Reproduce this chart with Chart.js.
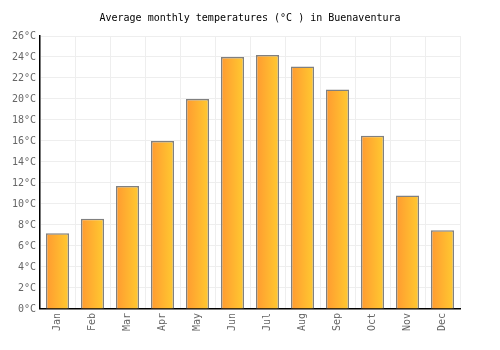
<!DOCTYPE html>
<html>
<head>
<meta charset="utf-8">
<script src="https://cdn.jsdelivr.net/npm/chart.js@4/dist/chart.umd.min.js"></script>
<style>
  html, body { margin: 0; padding: 0; background: #fff; }
  #wrap { width: 500px; height: 350px; }
</style>
</head>
<body>
<div id="wrap"><canvas id="tempChart"></canvas></div>
<script>
// Data
const months = ['Jan', 'Feb', 'Mar', 'Apr', 'May', 'Jun', 'Jul', 'Aug', 'Sep', 'Oct', 'Nov', 'Dec'];
const temps = [7.2, 8.6, 11.7, 16.0, 20.0, 24.0, 24.2, 23.1, 20.9, 16.5, 10.8, 7.5];
const yTicks = [0, 2, 4, 6, 8, 10, 12, 14, 16, 18, 20, 22, 24, 26];

const fontFamily = "'DejaVu Sans Mono', monospace";

// horizontal orange gradient on each bar, set just before drawing
const barGradientPlugin = {
    id: 'barGradient',
    beforeDatasetsDraw: function(chart) {
        const ctx = chart.ctx;
        chart.getDatasetMeta(0).data.forEach(function(bar) {
            const half = bar.width / 2;
            if (!isFinite(bar.x) || !isFinite(half)) return;
            const g = ctx.createLinearGradient(bar.x - half, 0, bar.x + half, 0);
            g.addColorStop(0, '#ff9a30');
            g.addColorStop(1, '#ffca30');
            // options are shared between bars, so give each its own copy
            bar.options = Object.assign({}, bar.options, { backgroundColor: g });
        });
    }
};

new Chart(document.getElementById('tempChart'), {
    type: 'bar',
    data: {
        labels: months,
        datasets: [{
            data: temps,
            backgroundColor: '#ffb030',
            borderColor: '#808080',
            borderWidth: 1.5,
            categoryPercentage: 0.66,
            barPercentage: 1.0
        }]
    },
    options: {
        responsive: true,
        maintainAspectRatio: false,
        animation: false,
        layout: { padding: { left: 0, right: 0, top: 0, bottom: 15 } },
        scales: {
            y: {
                min: 0,
                max: 26,
                afterBuildTicks: function(axis) {
                    axis.ticks = yTicks.map(v => ({ value: v }));
                },
                afterFit: function(axis) { axis.width = 40; },
                ticks: {
                    color: '#666',
                    font: { family: fontFamily, size: 10 },
                    padding: 4,
                    callback: v => v + '°C'
                },
                grid: { color: '#eeeeee', drawTicks: false },
                border: { color: '#000', width: 1.5 }
            },
            // empty axis on the right, only to leave the margin
            yRight: {
                position: 'right',
                min: 0,
                max: 26,
                afterFit: function(axis) { axis.width = 40; },
                ticks: { display: false },
                grid: { display: false, drawTicks: false },
                border: { display: false }
            },
            x: {
                ticks: {
                    color: '#666',
                    font: { family: fontFamily, size: 10 },
                    maxRotation: 90,
                    minRotation: 90,
                    padding: 4
                },
                grid: { color: '#eeeeee', offset: true, drawTicks: false },
                border: { color: '#000', width: 1.5 }
            }
        },
        plugins: {
            legend: { display: false },
            tooltip: { enabled: false },
            title: {
                display: true,
                text: 'Average monthly temperatures (°C ) in Buenaventura',
                color: '#000',
                font: { family: fontFamily, size: 10, weight: 'normal' },
                padding: { top: 12, bottom: 12 }
            }
        }
    },
    plugins: [barGradientPlugin]
});
</script>
</body>
</html>
